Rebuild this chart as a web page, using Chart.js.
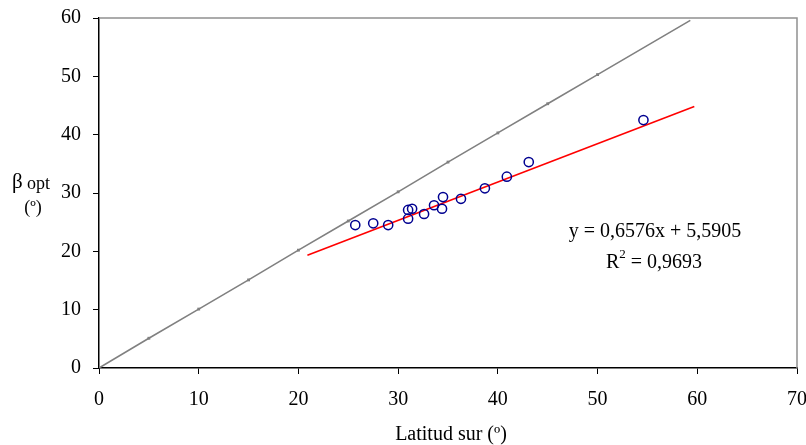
<!DOCTYPE html>
<html><head><meta charset="utf-8">
<script src="https://cdn.jsdelivr.net/npm/chart.js@4/dist/chart.umd.min.js"></script>
<style>html,body{margin:0;padding:0;background:#fff}#w{width:806px;height:445px}</style>
</head><body><div id="w"><canvas id="c" width="806" height="445"></canvas></div>
<script>
const latitud = [25.7, 27.5, 29.0, 31.0, 31.4, 31.0, 32.6, 33.6, 34.5, 34.4, 36.3, 38.7, 40.9, 43.1, 54.6];
const betaOpt = [24.5, 24.8, 24.5, 27.1, 27.3, 25.6, 26.4, 27.9, 29.3, 27.3, 29.0, 30.8, 32.8, 35.3, 42.5];
const refX = [0, 5, 10, 15, 20, 25, 30, 35, 40, 45, 50, 59.3];
const refY = [0, 5.1, 10.1, 15.1, 20.2, 25.2, 30.2, 35.3, 40.3, 45.3, 50.3, 59.6];
const trendX = [20.9, 59.7];
const slope = 0.6576, intercept = 5.5905;
const trendY = trendX.map(x => slope * x + intercept);
const xTicks = [0, 10, 20, 30, 40, 50, 60, 70];
const yTicks = [0, 10, 20, 30, 40, 50, 60];
const FONT = "'Liberation Serif', 'Times New Roman', serif";

const framePlugin = {
  id: 'frame',
  beforeDatasetsDraw(chart) {
    const {ctx, chartArea: a} = chart;
    ctx.save();
    ctx.strokeStyle = '#909090';
    ctx.lineWidth = 1.5;
    ctx.beginPath();
    ctx.moveTo(a.left, a.top);
    ctx.lineTo(a.right, a.top);
    ctx.lineTo(a.right, a.bottom);
    ctx.stroke();
    ctx.restore();
  }
};

const textPlugin = {
  id: 'texts',
  afterDraw(chart) {
    const ctx = chart.ctx;
    ctx.save();
    ctx.fillStyle = '#000';
    ctx.textBaseline = 'middle';
    ctx.textAlign = 'center';
    ctx.font = "20px " + FONT;
    ctx.fillText('Latitud sur (º)', 451, 435);
    ctx.font = "21px " + FONT;
    ctx.textAlign = 'left';
    ctx.fillText('β', 12, 182);
    ctx.font = "18px " + FONT;
    ctx.fillText('opt', 27, 184);
    ctx.textAlign = 'center';
    ctx.fillText('(º)', 33, 208);
    ctx.font = "20px " + FONT;
    ctx.fillText('y = 0,6576x + 5,5905', 655, 232);
    const s1 = 'R', s3 = ' = 0,9693';
    const w1 = ctx.measureText(s1).width, w3 = ctx.measureText(s3).width;
    ctx.font = "13px " + FONT;
    const w2 = ctx.measureText('2').width;
    const total = w1 + w2 + w3;
    let x0 = 654 - total / 2;
    ctx.textAlign = 'left';
    ctx.font = "20px " + FONT;
    ctx.fillText(s1, x0, 263);
    ctx.font = "13px " + FONT;
    ctx.fillText('2', x0 + w1, 255);
    ctx.font = "20px " + FONT;
    ctx.fillText(s3, x0 + w1 + w2, 263);
    ctx.restore();
  }
};

new Chart(document.getElementById('c'), {
  type: 'scatter',
  data: {
    datasets: [
      {
        label: 'ref',
        data: refX.map((x, i) => ({x: x, y: refY[i]})),
        showLine: true,
        borderColor: '#808080',
        backgroundColor: '#808080',
        borderWidth: 1.6,
        pointStyle: 'rect',
        pointRadius: refX.map((x, i) => (i === 0 || i === refX.length - 1) ? 0 : 2),
        pointBorderWidth: 0,
        order: 3
      },
      {
        label: 'trend',
        data: trendX.map((x, i) => ({x: x, y: trendY[i]})),
        showLine: true,
        borderColor: '#ff0000',
        borderWidth: 1.6,
        pointRadius: 0,
        order: 2
      },
      {
        label: 'datos',
        data: latitud.map((x, i) => ({x: x, y: betaOpt[i]})),
        borderColor: '#000090',
        backgroundColor: 'rgba(0,0,0,0)',
        pointRadius: 4.6,
        pointBorderWidth: 1.5,
        order: 1
      }
    ]
  },
  options: {
    animation: false,
    responsive: false,
    layout: {padding: {left: 0, right: 9, top: 18, bottom: 0}},
    plugins: {legend: {display: false}, tooltip: {enabled: false}},
    scales: {
      x: {
        type: 'linear', min: 0, max: 70,
        afterFit(s) { s.height = 77; s.paddingLeft = 0; s.paddingRight = 0; },
        afterBuildTicks(s) { s.ticks = xTicks.map(v => ({value: v})); },
        grid: {drawOnChartArea: false, color: '#000', tickLength: 6, lineWidth: 1},
        border: {color: '#000', width: 1.5},
        ticks: {color: '#000', font: {family: FONT, size: 20}, padding: 14, maxRotation: 0}
      },
      y: {
        type: 'linear', min: 0, max: 60,
        afterFit(s) { s.width = 99; s.paddingTop = 0; s.paddingBottom = 0; },
        afterBuildTicks(s) { s.ticks = yTicks.map(v => ({value: v})); },
        grid: {drawOnChartArea: false, color: '#000', tickLength: 6, lineWidth: 1},
        border: {color: '#000', width: 1.5},
        ticks: {color: '#000', font: {family: FONT, size: 20}, padding: 12}
      }
    }
  },
  plugins: [framePlugin, textPlugin]
});
</script>
</body></html>
